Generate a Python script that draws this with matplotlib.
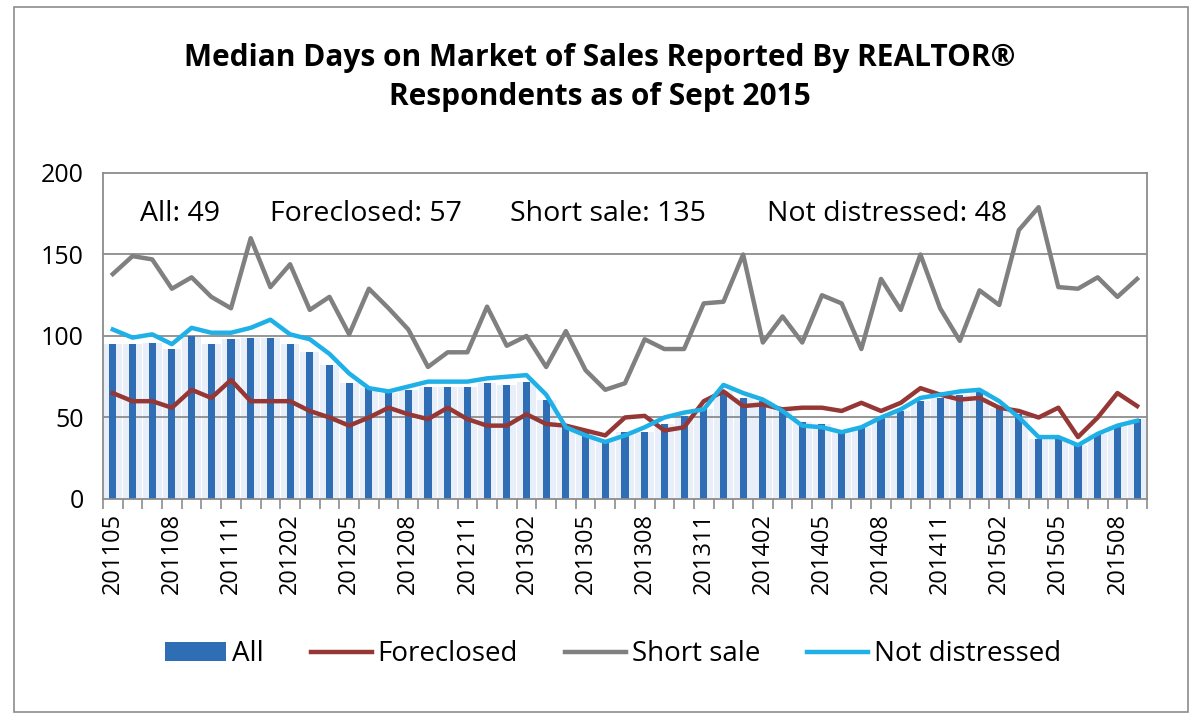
import numpy as np
import matplotlib
matplotlib.use('Agg')
import matplotlib.pyplot as plt
from matplotlib.patches import Rectangle

plt.rcParams['font.family'] = ['Open Sans', 'DejaVu Sans']

# Months 201105 .. 201509
months = []
for y in range(2011, 2016):
    for m in range(1, 13):
        code = y * 100 + m
        if 201105 <= code <= 201509:
            months.append(str(code))

all_sales = [95, 95, 96, 92, 100, 95, 98, 99, 99, 95, 90, 82, 71, 68, 65, 67, 69, 69,
             69, 71, 70, 72, 61, 44, 42, 36, 41, 41, 46, 51, 55, 66, 62, 60, 55, 47,
             46, 42, 44, 50, 54, 60, 62, 64, 66, 56, 52, 37, 37, 33, 40, 45, 49]
foreclosed = [65, 60, 60, 56, 67, 62, 73, 60, 60, 60, 54, 50, 45, 50, 56, 52, 49, 56,
              49, 45, 45, 52, 46, 45, 42, 39, 50, 51, 42, 44, 60, 66, 57, 58, 55, 56,
              56, 54, 59, 54, 59, 68, 64, 61, 62, 56, 54, 50, 56, 38, 50, 65, 57]
short_sale = [138, 149, 147, 129, 136, 124, 117, 160, 130, 144, 116, 124, 101, 129, 117,
              104, 81, 90, 90, 118, 94, 100, 81, 103, 79, 67, 71, 98, 92, 92, 120, 121,
              150, 96, 112, 96, 125, 120, 92, 135, 116, 150, 117, 97, 128, 119, 165, 179,
              130, 129, 136, 124, 135]
not_distressed = [104, 99, 101, 95, 105, 102, 102, 105, 110, 101, 98, 89, 77, 68, 66, 69,
                  72, 72, 72, 74, 75, 76, 64, 44, 39, 35, 39, 44, 50, 53, 55, 70, 65, 61,
                  54, 45, 44, 41, 44, 50, 55, 62, 64, 66, 67, 60, 50, 38, 38, 33, 40, 45, 48]

latest = {'All': 49, 'Foreclosed': 57, 'Short sale': 135, 'Not distressed': 48}

x = np.arange(len(months))

fig = plt.figure(figsize=(12, 7.19), dpi=100)
ax = fig.add_axes([0.0858, 0.306, 0.87, 0.4534])

# outer frame
fig.patches.append(Rectangle((0.012, 0.01), 0.978, 0.98, transform=fig.transFigure,
                             fill=False, edgecolor='#8c8c8c', linewidth=1.2))

for v in (50, 100, 150):
    ax.axhline(v, color='#8c8c8c', linewidth=1.3, zorder=1.5)

ax.bar(x, all_sales, width=0.95, color='#e8eff8', zorder=1)
b = ax.bar(x, all_sales, width=0.36, color='#2f6db5', zorder=2)
l1, = ax.plot(x, foreclosed, color='#953735', linewidth=3.2, zorder=3)
l2, = ax.plot(x, short_sale, color='#808080', linewidth=3.2, zorder=3)
l3, = ax.plot(x, not_distressed, color='#1eb0e6', linewidth=3.2, zorder=4)

ax.set_xlim(-0.5, len(months) - 0.5)
ax.set_ylim(0, 200)
ax.set_yticks([0, 50, 100, 150, 200])
ax.tick_params(axis='y', length=0, labelsize=18, pad=14)
ax.set_xticks(x[::3])
ax.set_xticklabels(months[::3], rotation=90, fontsize=17)
ax.set_xticks(np.arange(-0.5, len(months)), minor=True)
ax.tick_params(axis='x', which='major', length=0, pad=10)
ax.tick_params(axis='x', which='minor', length=7, color='#8c8c8c', width=1.2)
for s in ax.spines.values():
    s.set_color('#8c8c8c')
    s.set_linewidth(1.3)

ax.text(1.38, 175, f"All: {latest['All']}", fontsize=20.5, va='center')
ax.text(7.98, 175, f"Foreclosed: {latest['Foreclosed']}", fontsize=20.5, va='center')
ax.text(20.16, 175, f"Short sale: {latest['Short sale']}", fontsize=20.5, va='center')
ax.text(33.2, 175, f"Not distressed: {latest['Not distressed']}", fontsize=20.5, va='center')

fig.text(0.5, 0.892, 'Median Days on Market of Sales Reported By REALTOR®\nRespondents as of Sept 2015',
         ha='center', va='center', fontsize=21.5, fontweight='bold', linespacing=1.4)

fig.legend([b, l1, l2, l3], ['All', 'Foreclosed', 'Short sale', 'Not distressed'],
           loc='center', bbox_to_anchor=(0.511, 0.09), ncol=4, frameon=False, fontsize=20,
           handlelength=2.2, columnspacing=1.7, handletextpad=0.2)

fig.savefig('out.png', dpi=100)
